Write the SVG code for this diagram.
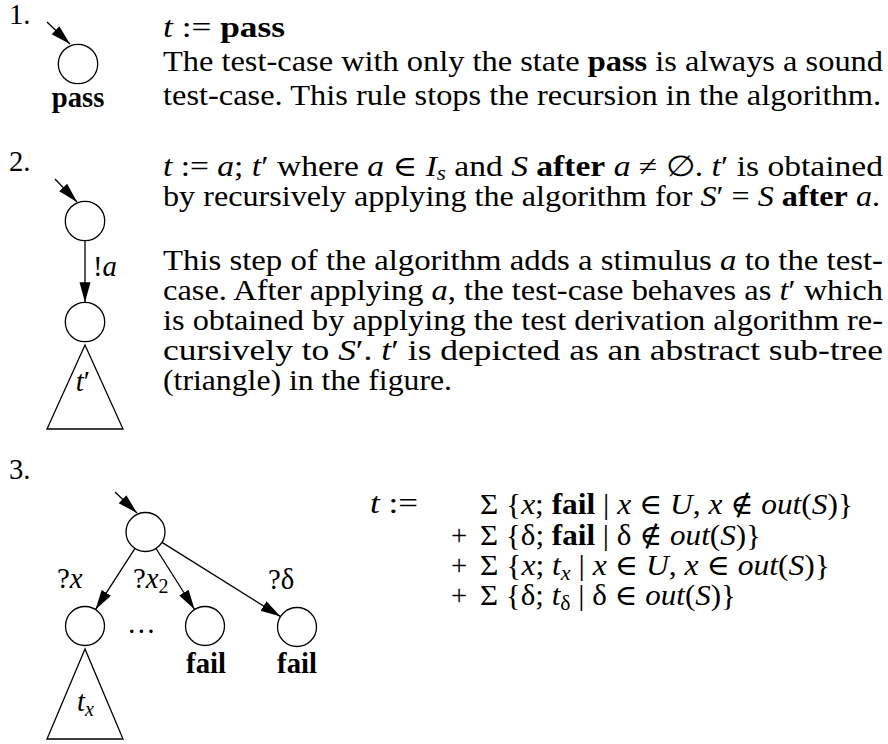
<svg xmlns="http://www.w3.org/2000/svg" width="888" height="744" viewBox="0 0 888 744">
<style>
.t{font-family:"Liberation Serif","DejaVu Serif",serif;font-size:28.7px;fill:#000}
.i{font-style:italic}
.b{font-weight:bold}
.sub{font-size:20px}
.n{fill:#fff;stroke:#000;stroke-width:1.3}
.e{fill:none;stroke:#000;stroke-width:1.3;marker-end:url(#ah)}
.tri{fill:#fff;stroke:#000;stroke-width:1.3}
</style>
<defs>
<marker id="ah" markerUnits="userSpaceOnUse" markerWidth="22" markerHeight="12" refX="20" refY="5.5" orient="auto">
<path d="M0,0 L20,5.5 L0,11 z" fill="#000"/>
</marker>
</defs>
<rect width="888" height="744" fill="#fff"/>

<!-- Section 1 -->
<text class="t" x="9" y="24">1.</text>
<g id="s1-pass">
<circle class="n" cx="78" cy="64" r="19.7"/>
<text class="t b" x="78" y="107" text-anchor="middle">pass</text>
</g>
<g id="s1-text">
<text class="t" x="163" y="37" textLength="122" lengthAdjust="spacingAndGlyphs"><tspan class="i">t</tspan> := <tspan class="b">pass</tspan></text>
<text class="t" x="163" y="71" textLength="720" lengthAdjust="spacingAndGlyphs">The test-case with only the state <tspan class="b">pass</tspan> is always a sound</text>
<text class="t" x="163" y="105" textLength="718" lengthAdjust="spacingAndGlyphs">test-case. This rule stops the recursion in the algorithm.</text>
</g>

<!-- Section 2 -->
<text class="t" x="9" y="171">2.</text>
<g id="s2-n1"><circle class="n" cx="85" cy="221" r="19.7"/></g>
<g id="s2-n2"><circle class="n" cx="85" cy="322" r="19.7"/></g>
<g id="s2-sub">
<polygon class="tri" points="85,345 47,429 123,429"/>
<text class="t" x="83" y="391" text-anchor="middle"><tspan class="i">t</tspan>′</text>
</g>
<g id="s2-text">
<text class="t" x="163" y="176" textLength="720" lengthAdjust="spacingAndGlyphs"><tspan class="i">t</tspan> := <tspan class="i">a</tspan>; <tspan class="i">t</tspan>′ where <tspan class="i">a</tspan> ∈ <tspan class="i">I</tspan><tspan class="i sub" dy="4">s</tspan><tspan dy="-4"> and </tspan><tspan class="i">S</tspan> <tspan class="b">after</tspan> <tspan class="i">a</tspan> ≠ ∅.  <tspan class="i">t</tspan>′ is obtained</text>
<text class="t" x="163" y="206" textLength="717" lengthAdjust="spacingAndGlyphs">by recursively applying the algorithm for <tspan class="i">S</tspan>′ = <tspan class="i">S</tspan> <tspan class="b">after</tspan> <tspan class="i">a</tspan>.</text>
<text class="t" x="163" y="270" textLength="720" lengthAdjust="spacingAndGlyphs">This step of the algorithm adds a stimulus <tspan class="i">a</tspan> to the test-</text>
<text class="t" x="163" y="300" textLength="720" lengthAdjust="spacingAndGlyphs">case. After applying <tspan class="i">a</tspan>, the test-case behaves as <tspan class="i">t</tspan>′ which</text>
<text class="t" x="163" y="330" textLength="720" lengthAdjust="spacingAndGlyphs">is obtained by applying the test derivation algorithm re-</text>
<text class="t" x="163" y="360" textLength="720" lengthAdjust="spacingAndGlyphs">cursively to <tspan class="i">S</tspan>′.  <tspan class="i">t</tspan>′ is depicted as an abstract sub-tree</text>
<text class="t" x="163" y="390" textLength="289" lengthAdjust="spacingAndGlyphs">(triangle) in the figure.</text>
</g>

<!-- Section 3 -->
<text class="t" x="9" y="479">3.</text>
<g id="s3-root"><circle class="n" cx="145.5" cy="532" r="19.5"/></g>
<g id="s3-left"><circle class="n" cx="85" cy="626" r="19.5"/></g>
<g id="s3-mid">
<circle class="n" cx="205" cy="626" r="19.5"/>
<text class="t b" x="206" y="673" text-anchor="middle">fail</text>
</g>
<g id="s3-right">
<circle class="n" cx="297" cy="627" r="19.5"/>
<text class="t b" x="297" y="673" text-anchor="middle">fail</text>
</g>
<g id="s3-sub">
<polygon class="tri" points="85,649 47,739 123,739"/>
<text class="t" x="77" y="711"><tspan class="i">t</tspan><tspan class="i sub" dy="5">x</tspan></text>
</g>
<text class="t" x="127" y="633">…</text>
<g id="s3-formula">
<text class="t" x="370" y="513" textLength="48" lengthAdjust="spacingAndGlyphs"><tspan class="i">t</tspan> :=</text>
<text class="t" x="480" y="514" textLength="373" lengthAdjust="spacingAndGlyphs">Σ {<tspan class="i">x</tspan>; <tspan class="b">fail</tspan> | <tspan class="i">x</tspan> ∈ <tspan class="i">U</tspan>, <tspan class="i">x</tspan> ∉ <tspan class="i">out</tspan>(<tspan class="i">S</tspan>)}</text>
<text class="t" x="451" y="545">+</text>
<text class="t" x="480" y="545" textLength="281" lengthAdjust="spacingAndGlyphs">Σ {δ; <tspan class="b">fail</tspan> | δ ∉ <tspan class="i">out</tspan>(<tspan class="i">S</tspan>)}</text>
<text class="t" x="451" y="575">+</text>
<text class="t" x="480" y="575" textLength="350" lengthAdjust="spacingAndGlyphs">Σ {<tspan class="i">x</tspan>; <tspan class="i">t</tspan><tspan class="i sub" dy="5">x</tspan><tspan dy="-5"> | </tspan><tspan class="i">x</tspan> ∈ <tspan class="i">U</tspan>, <tspan class="i">x</tspan> ∈ <tspan class="i">out</tspan>(<tspan class="i">S</tspan>)}</text>
<text class="t" x="451" y="605">+</text>
<text class="t" x="480" y="605" textLength="256" lengthAdjust="spacingAndGlyphs">Σ {δ; <tspan class="i">t</tspan><tspan class="sub" dy="5">δ</tspan><tspan dy="-5"> | </tspan>δ ∈ <tspan class="i">out</tspan>(<tspan class="i">S</tspan>)}</text>
</g>

<g id="connectors">
<line class="e" x1="47" y1="22" x2="70" y2="44"/>
<line class="e" x1="55" y1="179" x2="77" y2="202"/>
<line class="e" x1="85" y1="240.7" x2="85" y2="302.3"/>
<text class="t" x="93" y="276">!<tspan class="i">a</tspan></text>
<line class="e" x1="115" y1="492" x2="137" y2="513"/>
<line class="e" x1="135" y1="548.4" x2="95.5" y2="609.6"/>
<line class="e" x1="156" y1="548.5" x2="194.6" y2="609.5"/>
<line class="e" x1="162" y1="542.4" x2="280.5" y2="616.6"/>
<text class="t" x="57" y="588">?<tspan class="i">x</tspan></text>
<text class="t" x="133" y="588">?<tspan class="i">x</tspan><tspan class="sub" dy="5">2</tspan></text>
<text class="t" x="268" y="589">?δ</text>
</g>
</svg>
